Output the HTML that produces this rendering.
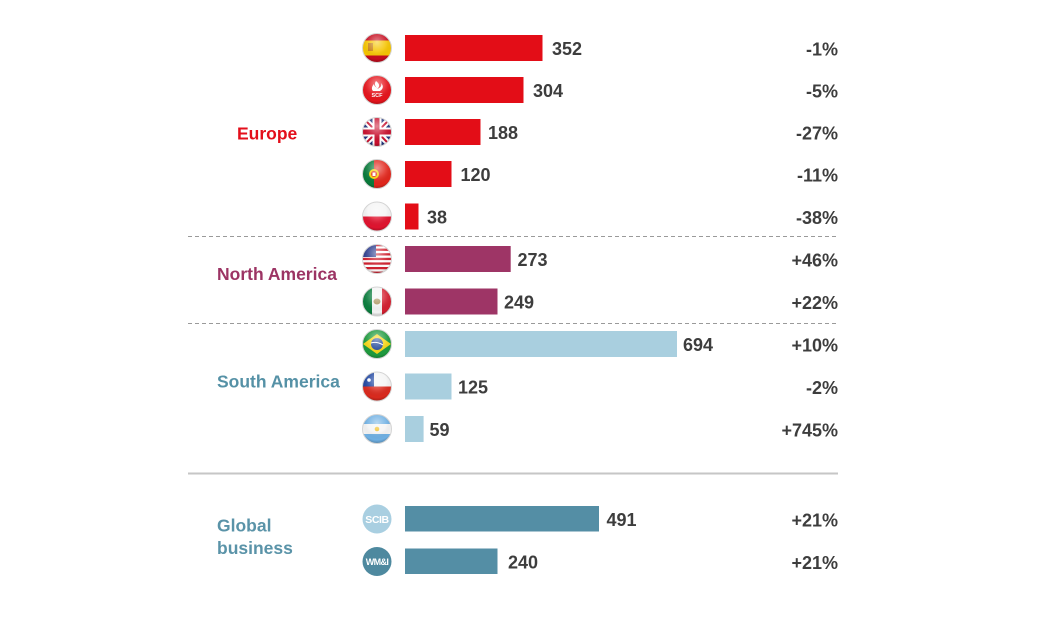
<!DOCTYPE html>
<html>
<head>
<meta charset="utf-8">
<style>
html,body{margin:0;padding:0;background:#fff;}
svg{display:block;}
text{font-family:"Liberation Sans",sans-serif;font-weight:bold;}
.v{font-size:18px;fill:#3d3d3d;}
.p{font-size:18px;fill:#3d3d3d;text-anchor:end;}
.c{font-size:17.5px;}
</style>
</head>
<body>
<svg width="1050" height="626" viewBox="0 0 1050 626" xmlns="http://www.w3.org/2000/svg">
<defs>
  <clipPath id="cc"><circle cx="0" cy="0" r="14.5"/></clipPath>
  <radialGradient id="gl" cx="0.5" cy="0.3" r="0.72">
    <stop offset="0" stop-color="#fff" stop-opacity="0.5"/>
    <stop offset="0.45" stop-color="#fff" stop-opacity="0.12"/>
    <stop offset="0.8" stop-color="#000" stop-opacity="0"/>
    <stop offset="1" stop-color="#000" stop-opacity="0.28"/>
  </radialGradient>
</defs>

<!-- separators -->
<line x1="188" y1="236.5" x2="838" y2="236.5" stroke="#9a9a9a" stroke-width="1" stroke-dasharray="4,3"/>
<line x1="188" y1="323.5" x2="838" y2="323.5" stroke="#9a9a9a" stroke-width="1" stroke-dasharray="4,3"/>
<line x1="188" y1="473.5" x2="838" y2="473.5" stroke="#c6c6c6" stroke-width="2"/>

<!-- category labels -->
<text class="c" x="237" y="139.5" fill="#e30f1b">Europe</text>
<text class="c" x="217" y="280" fill="#9c3464">North America</text>
<text class="c" x="217" y="387.5" fill="#5591a6">South America</text>
<text class="c" x="217" y="531.5" fill="#5a93a8">Global</text>
<text class="c" x="217" y="554" fill="#5a93a8">business</text>

<!-- bars -->
<rect x="405" y="35" width="137.5" height="26" fill="#e30d17"/>
<rect x="405" y="77" width="118.5" height="26" fill="#e30d17"/>
<rect x="405" y="119" width="75.5" height="26" fill="#e30d17"/>
<rect x="405" y="161" width="46.5" height="26" fill="#e30d17"/>
<rect x="405" y="203.5" width="13.5" height="26" fill="#e30d17"/>
<rect x="405" y="246" width="105.7" height="26" fill="#9e3566"/>
<rect x="405" y="288.5" width="92.5" height="26" fill="#9e3566"/>
<rect x="405" y="331" width="272" height="26" fill="#a9cfdf"/>
<rect x="405" y="373.5" width="46.5" height="26" fill="#a9cfdf"/>
<rect x="405" y="416" width="18.6" height="26" fill="#a9cfdf"/>
<rect x="405" y="506" width="194" height="25.5" fill="#548ea5"/>
<rect x="405" y="548.5" width="92.5" height="25.5" fill="#548ea5"/>

<!-- values -->
<text class="v" x="552" y="55">352</text>
<text class="v" x="533" y="97">304</text>
<text class="v" x="488" y="139">188</text>
<text class="v" x="460.5" y="181">120</text>
<text class="v" x="427" y="223.5">38</text>
<text class="v" x="517.5" y="266">273</text>
<text class="v" x="504" y="308.5">249</text>
<text class="v" x="683" y="351">694</text>
<text class="v" x="458" y="393.5">125</text>
<text class="v" x="429.5" y="436">59</text>
<text class="v" x="606.5" y="526">491</text>
<text class="v" x="508" y="568.5">240</text>

<!-- percentages -->
<text class="p" x="838" y="55.5">-1%</text>
<text class="p" x="838" y="97.5">-5%</text>
<text class="p" x="838" y="139.5">-27%</text>
<text class="p" x="838" y="181.5">-11%</text>
<text class="p" x="838" y="224">-38%</text>
<text class="p" x="838" y="266.5">+46%</text>
<text class="p" x="838" y="309">+22%</text>
<text class="p" x="838" y="351.5">+10%</text>
<text class="p" x="838" y="394">-2%</text>
<text class="p" x="838" y="436.5">+745%</text>
<text class="p" x="838" y="526.5">+21%</text>
<text class="p" x="838" y="569">+21%</text>

<!-- Spain -->
<g transform="translate(377,48)">
  <g clip-path="url(#cc)">
    <rect x="-15" y="-15" width="30" height="30" fill="#c60b1e"/>
    <rect x="-15" y="-7.5" width="30" height="15" fill="#f5c400"/>
    <rect x="-9" y="-5" width="5" height="8" fill="#b5651d" opacity="0.7"/>
  </g>
  <circle r="14.5" fill="url(#gl)" stroke="#d4d4d4" stroke-width="1"/>
</g>
<!-- SCF -->
<g transform="translate(377,90)">
  <circle r="14.5" fill="#e5141c"/>
  <path d="M-1,-9 C3,-6 3,-3 0,-1 C4,-2 5,-5 4,-7 C7,-4 6,-1 3,1 L-4,1 C-6,-1 -5,-4 -3,-6 C-3,-4 -1,-3 0,-2 C-2,-4 -3,-6 -1,-9 Z" fill="#fff"/>
  <text x="0" y="7" text-anchor="middle" style="font-size:5.5px;fill:#fff;">SCF</text>
  <circle r="14.5" fill="url(#gl)" stroke="#d4d4d4" stroke-width="1"/>
</g>
<!-- UK -->
<g transform="translate(377,132)">
  <g clip-path="url(#cc)">
    <rect x="-15" y="-15" width="30" height="30" fill="#21357e"/>
    <path d="M-15,-15 L15,15 M15,-15 L-15,15" stroke="#fff" stroke-width="6"/>
    <path d="M-15,-15 L15,15 M15,-15 L-15,15" stroke="#c8102e" stroke-width="2"/>
    <path d="M0,-15 V15 M-15,0 H15" stroke="#fff" stroke-width="9"/>
    <path d="M0,-15 V15 M-15,0 H15" stroke="#c8102e" stroke-width="5"/>
  </g>
  <circle r="14.5" fill="url(#gl)" stroke="#d4d4d4" stroke-width="1"/>
</g>
<!-- Portugal -->
<g transform="translate(377,174)">
  <g clip-path="url(#cc)">
    <rect x="-15" y="-15" width="30" height="30" fill="#e1261c"/>
    <rect x="-15" y="-15" width="12" height="30" fill="#087a3a"/>
    <circle cx="-3" cy="0" r="5" fill="#f6d100"/>
    <circle cx="-3" cy="0" r="3" fill="#e1261c"/>
    <rect x="-4.5" y="-1.5" width="3" height="3.5" fill="#fff"/>
  </g>
  <circle r="14.5" fill="url(#gl)" stroke="#d4d4d4" stroke-width="1"/>
</g>
<!-- Poland -->
<g transform="translate(377,216.5)">
  <g clip-path="url(#cc)">
    <rect x="-15" y="-15" width="30" height="30" fill="#f4f4f4"/>
    <rect x="-15" y="0" width="30" height="15" fill="#e0142f"/>
  </g>
  <circle r="14.5" fill="url(#gl)" stroke="#d4d4d4" stroke-width="1"/>
</g>
<!-- USA -->
<g transform="translate(377,259)">
  <g clip-path="url(#cc)">
    <rect x="-15" y="-15" width="30" height="30" fill="#fff"/>
    <g fill="#d0212f">
      <rect x="-15" y="-15" width="30" height="2.3"/>
      <rect x="-15" y="-10.4" width="30" height="2.3"/>
      <rect x="-15" y="-5.8" width="30" height="2.3"/>
      <rect x="-15" y="-1.2" width="30" height="2.3"/>
      <rect x="-15" y="3.4" width="30" height="2.3"/>
      <rect x="-15" y="8" width="30" height="2.3"/>
      <rect x="-15" y="12.6" width="30" height="2.4"/>
    </g>
    <rect x="-15" y="-15" width="14" height="13" fill="#2f3f8f"/>
  </g>
  <circle r="14.5" fill="url(#gl)" stroke="#d4d4d4" stroke-width="1"/>
</g>
<!-- Mexico -->
<g transform="translate(377,301.5)">
  <g clip-path="url(#cc)">
    <rect x="-15" y="-15" width="30" height="30" fill="#f4f4f4"/>
    <rect x="-15" y="-15" width="10" height="30" fill="#0b7d3e"/>
    <rect x="5" y="-15" width="10" height="30" fill="#d32030"/>
    <ellipse cx="0" cy="0" rx="3.5" ry="3" fill="#9a7a3a" opacity="0.8"/>
  </g>
  <circle r="14.5" fill="url(#gl)" stroke="#d4d4d4" stroke-width="1"/>
</g>
<!-- Brazil -->
<g transform="translate(377,344)">
  <g clip-path="url(#cc)">
    <rect x="-15" y="-15" width="30" height="30" fill="#1e9a3e"/>
    <path d="M-14,0 L0,-10 L14,0 L0,10 Z" fill="#f7d617"/>
    <circle r="6" fill="#2a4f9e"/>
    <path d="M-6,-1 Q0,-3 6,1" stroke="#fff" stroke-width="1" fill="none"/>
  </g>
  <circle r="14.5" fill="url(#gl)" stroke="#d4d4d4" stroke-width="1"/>
</g>
<!-- Chile -->
<g transform="translate(377,386.5)">
  <g clip-path="url(#cc)">
    <rect x="-15" y="-15" width="30" height="30" fill="#f4f4f4"/>
    <rect x="-15" y="0" width="30" height="15" fill="#da2a1e"/>
    <rect x="-15" y="-15" width="12" height="15" fill="#1f45a0"/>
    <circle cx="-8" cy="-6.5" r="1.8" fill="#fff"/>
  </g>
  <circle r="14.5" fill="url(#gl)" stroke="#d4d4d4" stroke-width="1"/>
</g>
<!-- Argentina -->
<g transform="translate(377,429)">
  <g clip-path="url(#cc)">
    <rect x="-15" y="-15" width="30" height="30" fill="#f4f4f4"/>
    <rect x="-15" y="-15" width="30" height="10" fill="#6fb0e3"/>
    <rect x="-15" y="5" width="30" height="10" fill="#6fb0e3"/>
    <circle r="2.3" fill="#f2c230"/>
  </g>
  <circle r="14.5" fill="url(#gl)" stroke="#d4d4d4" stroke-width="1"/>
</g>
<!-- SCIB -->
<g transform="translate(377,519)">
  <circle r="14.5" fill="#a9cfe1"/>
  <text x="0" y="3.8" text-anchor="middle" style="font-size:10.5px;fill:#fff;letter-spacing:-0.4px;">SCIB</text>
</g>
<!-- WM&I -->
<g transform="translate(377,561.5)">
  <circle r="14.5" fill="#4e899f"/>
  <text x="0" y="3.5" text-anchor="middle" style="font-size:9px;fill:#fff;letter-spacing:-0.6px;">WM&amp;I</text>
</g>
</svg>
</body>
</html>
